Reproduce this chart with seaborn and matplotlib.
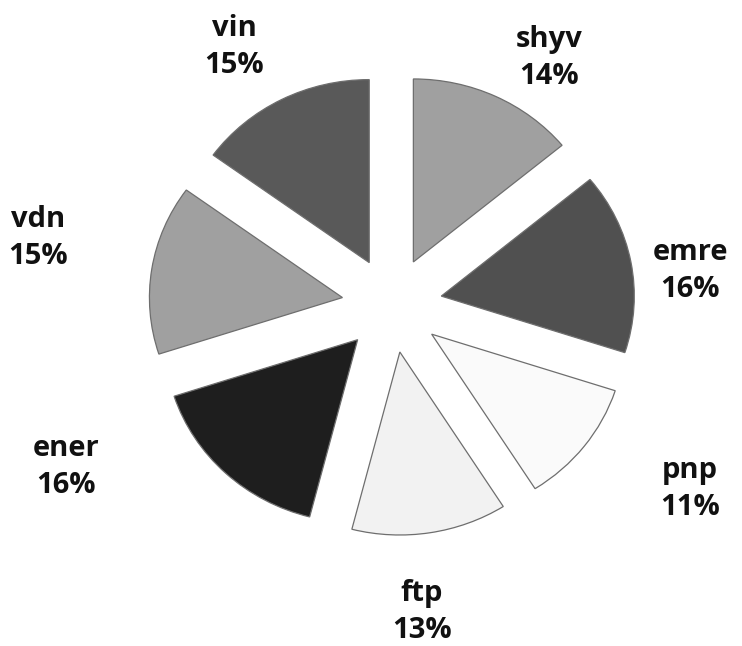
import matplotlib
matplotlib.use("Agg")
import matplotlib.pyplot as plt
import seaborn as sns

# slice data, clockwise from 12 o'clock
labels = ["shyv", "emre", "pnp", "ftp", "ener", "vdn", "vin"]
shares = [14, 16, 11, 13, 16, 15, 15]
greys = ["#a0a0a0", "#505050", "#fafafa", "#f2f2f2", "#1e1e1e", "#a0a0a0", "#595959"]

# where each label block sits (pixels from top-left of the 742x646 canvas)
label_px = [(549, 58), (690, 271), (690, 489), (422, 612), (66, 467), (38, 238), (234, 47)]

sns.set_theme(style="white")
plt.rcParams["font.family"] = ["Open Sans", "DejaVu Sans"]

W, H = 742, 646
cx, cy = 392, 305
rx, ry = 193, 183   # the original pie is slightly stretched sideways

fig = plt.figure(figsize=(W / 100, H / 100), dpi=100)
ax = fig.add_axes([0, 0, 1, 1])

ax.pie(shares, colors=greys, startangle=90, counterclock=False,
       explode=[0.26] * len(shares), radius=1,
       wedgeprops=dict(edgecolor="#6e6e6e", linewidth=0.9))

ax.set_xlim(-cx / rx, (W - cx) / rx)
ax.set_ylim(-(H - cy) / ry, cy / ry)
ax.set_aspect("auto")
ax.axis("off")

for name, pct, (px, py) in zip(labels, shares, label_px):
    ax.text((px - cx) / rx, (cy - py) / ry, f"{name}\n{pct}%",
            ha="center", va="center", fontsize=21, fontweight="bold",
            color="#111111", linespacing=1.4)

fig.savefig("out.png", dpi=100)
